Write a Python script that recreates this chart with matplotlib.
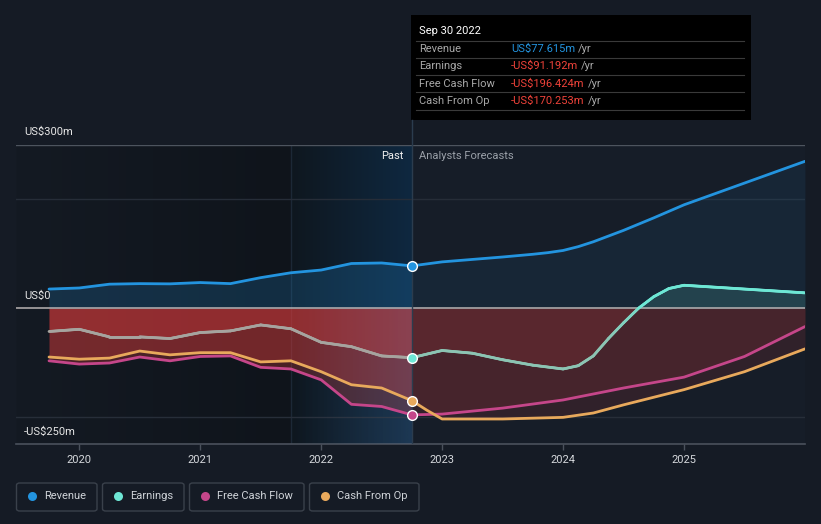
import numpy as np
import matplotlib
matplotlib.use("Agg")
import matplotlib.pyplot as plt
from matplotlib.collections import LineCollection
from matplotlib.patches import FancyBboxPatch, Rectangle
from matplotlib.colors import to_rgb

plt.rcParams['font.family'] = ['Roboto', 'DejaVu Sans']

# ---------------- data (US$ millions) ----------------
past_x = [2019.75, 2020.0, 2020.25, 2020.5, 2020.75, 2021.0, 2021.25,
          2021.5, 2021.75, 2022.0, 2022.25, 2022.5, 2022.75]
revenue_past = [35, 37, 44, 45, 44.6, 47, 45, 56, 65, 70, 82, 83, 77.615]
earnings_past = [-43, -39, -53, -53, -56, -45, -42, -31, -38, -63, -71, -88, -91.192]
fcf_past = [-97, -103, -101, -90, -97, -89, -88, -109, -112, -132, -177, -181, -196.424]
cfo_past = [-90, -94, -92, -79, -86, -82, -82, -99, -97, -117, -141, -147, -170.253]

revenue_fc_x = [2022.75, 2023.0, 2023.5, 2023.75, 2023.875, 2024.0, 2024.125, 2024.25,
                2024.5, 2024.75, 2025.0, 2025.5, 2026.0]
revenue_fc = [77.615, 85, 94, 99, 102, 106, 113, 122, 143, 166, 190, 230, 270]

earnings_fc_x = [2022.75, 2023.0, 2023.25, 2023.5, 2023.75, 2024.0, 2024.125, 2024.25,
                 2024.375, 2024.5, 2024.625, 2024.75, 2024.875, 2025.0, 2026.0]
earnings_fc = [-91.192, -78, -83, -95, -105, -112, -106, -88, -56, -27, 0, 21, 36, 42, 28]

fcf_fc_x = [2022.75, 2023.0, 2023.5, 2024.0, 2024.5, 2025.0, 2025.5, 2026.0]
fcf_fc = [-196.424, -195, -184, -169, -147, -127, -89, -34]

cfo_fc_x = [2022.75, 2022.875, 2023.0, 2023.5, 2024.0, 2024.25, 2024.5, 2025.0, 2025.5, 2026.0]
cfo_fc = [-170.253, -188, -204, -204, -201, -193, -178, -150, -117, -75]

year_ticks = [2020, 2021, 2022, 2023, 2024, 2025]
series_names = ["Revenue", "Earnings", "Free Cash Flow", "Cash From Op"]
tooltip_values = ["US$77.615m", "-US$91.192m", "-US$196.424m", "-US$170.253m"]

# ---------------- style ----------------
BG = "#151b25"
FC_BG = "#161d28"
C_REV = "#2394df"
C_EARN = "#6ee7d5"
C_FCF = "#c5468a"
C_CFO = "#e8a95c"
RED = "#e03c3c"

W, H = 821, 524
fig = plt.figure(figsize=(W / 100, H / 100), dpi=100, facecolor=BG)

def fx(px):
    return px / W

def fy(py):
    return 1 - py / H

ax = fig.add_axes([fx(16), fy(444), fx(805) - fx(16), fy(145) - fy(444)])
ax.set_facecolor(FC_BG)
XMIN, XMAX = 2019.477, 2026.0
YMIN, YMAX = -250, 300
ax.set_xlim(XMIN, XMAX)
ax.set_ylim(YMIN, YMAX)
for s in ax.spines.values():
    s.set_visible(False)

# background gradients
def hgrad(c0, c1, n=256):
    a = np.array(to_rgb(c0)); b = np.array(to_rgb(c1))
    t = np.linspace(0, 1, n)[None, :, None]
    return a[None, None, :] * (1 - t) + b[None, None, :] * t

ax.imshow(hgrad("#141a23", "#0f141b"), extent=[XMIN, 2021.75, YMIN, YMAX],
          aspect='auto', zorder=0, interpolation='bilinear')
ax.imshow(hgrad("#0f171f", "#0e2840"), extent=[2021.75, 2022.75, YMIN, YMAX],
          aspect='auto', zorder=0, interpolation='bilinear')
ax.axvline(2021.75, color="#1c2836", lw=1, zorder=0.5)

# grid lines
ax.axhline(300, color="#4d545e", lw=1, zorder=0.6)
ax.axhline(200, color="#262d38", lw=1, zorder=0.6)
ax.axhline(-200, color="#272e39", lw=1, zorder=0.6)
ax.axhline(-250, color="#4a515c", lw=1.2, zorder=0.6, clip_on=False)

# fills
def fill_series(x, y, past):
    x = np.array(x, float); y = np.array(y, float)
    a_neg = 0.28 if past else 0.13
    ax.fill_between(x, y, 0, where=y <= 0, interpolate=True, color=RED,
                    alpha=a_neg, lw=0, zorder=1)

for xx, yy in [(past_x, earnings_past), (past_x, fcf_past), (past_x, cfo_past)]:
    fill_series(xx, yy, True)
for xx, yy in [(earnings_fc_x, earnings_fc), (fcf_fc_x, fcf_fc), (cfo_fc_x, cfo_fc)]:
    fill_series(xx, yy, False)

ax.fill_between(past_x, revenue_past, 0, color=C_REV, alpha=0.2, lw=0, zorder=1)
ax.fill_between(revenue_fc_x, revenue_fc, 0, color=C_REV, alpha=0.08, lw=0, zorder=1)
ef = np.array(earnings_fc, float)
ax.fill_between(earnings_fc_x, ef, 0, where=ef >= 0, interpolate=True,
                color=C_EARN, alpha=0.15, lw=0, zorder=1)

# highlight tint overlay (below zero only)
tint = np.zeros((1, 256, 4))
tint[..., :3] = to_rgb("#6a90c0")
tint[..., 3] = np.linspace(0, 0.16, 256)
ax.imshow(tint, extent=[2021.75, 2022.75, YMIN, 0], aspect='auto',
          zorder=1.5, interpolation='bilinear')

# zero line
ax.axhline(0, color="#b9b3b3", lw=1.1, zorder=2)

# lines
LW = 2.0
ax.plot(past_x + revenue_fc_x[1:], revenue_past + revenue_fc[1:], color=C_REV,
        lw=LW, zorder=3, solid_capstyle='round', solid_joinstyle='round')
ax.plot(past_x + fcf_fc_x[1:], fcf_past + fcf_fc[1:], color=C_FCF, lw=LW, zorder=3,
        solid_capstyle='round', solid_joinstyle='round')
ax.plot(past_x + cfo_fc_x[1:], cfo_past + cfo_fc[1:], color=C_CFO, lw=LW, zorder=3,
        solid_capstyle='round', solid_joinstyle='round')

# earnings line with colour by sign / region
ex = np.array(past_x + earnings_fc_x[1:], float)
ey = np.array(earnings_past + earnings_fc[1:], float)
fine_x = np.unique(np.concatenate([np.linspace(ex[0], ex[-1], 800), ex]))
fine_y = np.interp(fine_x, ex, ey)
pts = np.column_stack([fine_x, fine_y])
segs = np.stack([pts[:-1], pts[1:]], axis=1)
cols = []
c_pos = np.array(to_rgb(C_EARN)); c_fneg = np.array(to_rgb("#8cc4b3")); c_pneg = np.array(to_rgb("#a6a49f"))
for (x0, y0), (x1, y1) in segs:
    ym = (y0 + y1) / 2
    if ym >= 0:
        c = c_pos
    elif x0 < 2022.75:
        c = c_pneg
    else:
        t = np.clip(1 + ym / 60, 0, 1) * 0.6
        c = c_fneg * (1 - t) + c_pos * t
    cols.append(c)
lc = LineCollection(segs, colors=cols, linewidths=LW, zorder=3, capstyle='round',
                    joinstyle='round')
ax.add_collection(lc)

# markers at Sep 30 2022
for val, c in [(revenue_past[-1], C_REV), (earnings_past[-1], C_EARN),
               (fcf_past[-1], C_FCF), (cfo_past[-1], C_CFO)]:
    ax.plot([2022.75], [val], 'o', ms=7, mfc=c, mec="white", mew=1, zorder=4)

# vertical divider line
ax.plot([2022.75, 2022.75], [YMIN, YMAX], color="#2b3c4e", lw=1, zorder=2.5)
fig.add_artist(plt.Line2D([fx(411.5), fx(411.5)], [fy(145), fy(120)], color="#2b3c4e", lw=1))

# x ticks
ax.set_xticks(year_ticks)
ax.set_xticklabels([str(y) for y in year_ticks])
ax.tick_params(axis='x', colors="#4a515c", labelcolor="#d5d8dc", labelsize=8,
               length=4, width=1, pad=4)
ax.set_yticks([])

# y labels
fig.text(fx(24), fy(132), "US$300m", color="#e6e6e6", fontsize=8, va='center', ha='left')
fig.text(fx(24), fy(296), "US$0", color="#e6e6e6", fontsize=8, va='center', ha='left')
fig.text(fx(24), fy(432), "-US$250m", color="#e6e6e6", fontsize=8, va='center', ha='left')

fig.text(fx(403), fy(156), "Past", color="#f0f0f0", fontsize=8, va='center', ha='right')
fig.text(fx(419), fy(156), "Analysts Forecasts", color="#9aa0a8", fontsize=8, va='center', ha='left')

# tooltip
fig.add_artist(Rectangle((fx(411), fy(120)), fx(751) - fx(411), fy(15) - fy(120),
                         transform=fig.transFigure, facecolor="#000000", edgecolor="none"))
fig.text(fx(419), fy(31), "Sep 30 2022", color="white", fontsize=8, va='center', ha='left')
row_y = [49, 66, 84, 101]
sep_y = [40.5, 57.5, 75, 92, 110]
for sy in sep_y:
    fig.add_artist(plt.Line2D([fx(416), fx(744)], [fy(sy), fy(sy)], color="#3a3a3a", lw=0.8))
for name, val, ry in zip(series_names, tooltip_values, row_y):
    fig.text(fx(419), fy(ry), name, color="#a8a8a8", fontsize=8, va='center', ha='left')
    vc = C_REV if not val.startswith('-') else "#f0433a"
    t = fig.text(fx(511), fy(ry), val, color=vc, fontsize=8, va='center', ha='left')
    fig.canvas.draw()
    bb = t.get_window_extent()
    fig.text(bb.x1 / W + fx(3), fy(ry), "/yr", color="#a8a8a8", fontsize=8, va='center', ha='left')

# legend
leg_boxes = [(16, 97), (102, 184), (189, 304), (309, 419)]
leg_colors = [C_REV, C_EARN, C_FCF, C_CFO]
for (x0, x1), name, c in zip(leg_boxes, series_names, leg_colors):
    fig.add_artist(FancyBboxPatch((fx(x0 + 0.5), fy(511)), fx(x1) - fx(x0 + 0.5), fy(483) - fy(511),
                                  boxstyle="round,pad=0,rounding_size=0.004",
                                  transform=fig.transFigure, facecolor="none",
                                  edgecolor="#3a414b", lw=1))
    fig.add_artist(plt.Line2D([fx(x0 + 16)], [fy(496)], marker='o', ms=6.5, color=c,
                              mec='none', linestyle='none'))
    fig.text(fx(x0 + 28), fy(496), name, color="#cfd3d8", fontsize=8, va='center', ha='left')

fig.savefig("out.png", dpi=100, facecolor=BG)
